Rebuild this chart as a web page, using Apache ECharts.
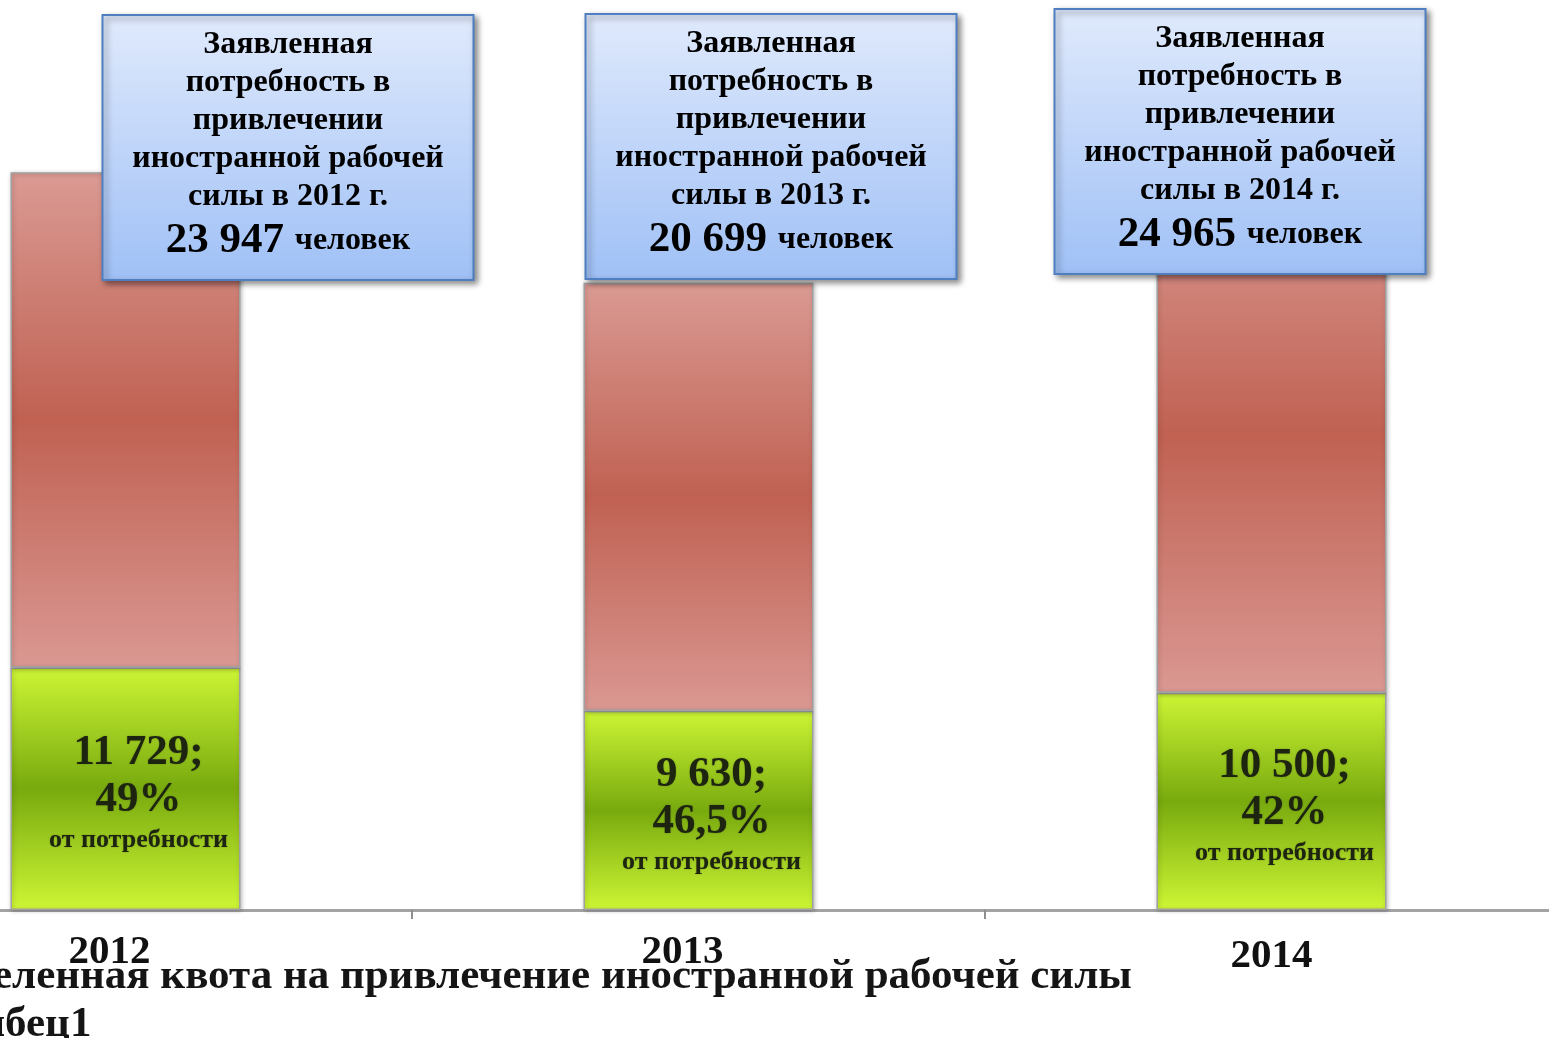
<!DOCTYPE html>
<html>
<head>
<meta charset="utf-8">
<script src="https://cdn.jsdelivr.net/npm/echarts@6/dist/echarts.min.js"></script>
<style>
html,body{margin:0;padding:0;background:#fff;overflow:hidden;width:1549px;height:1038px;}
#chart{width:1719px;height:1070px;margin-left:-161px;}
</style>
</head>
<body>
<div id="chart"></div>
<script>
// ---- data ----
const years = ['2012', '2013', '2014'];
const quotaValues = [11729, 9630, 10500];          // выделенная квота
const demandValues = [23947, 20699, 24965];        // заявленная потребность
const quotaShare = ['49%', '46,5%', '42%'];
const quotaName = 'Выделенная квота на привлечение иностранной рабочей силы';
const demandName = 'Столбец1';

// ---- helpers ----
const fmt = n => String(n).replace(/\B(?=(\d{3})+(?!\d))/g, ' ');
const FONT = '"Liberation Serif", "Times New Roman", serif';
const SHIFT = 161; // chart container extends past the left edge of the view

const chart = echarts.init(document.getElementById('chart'));

const redGrad = new echarts.graphic.LinearGradient(0, 0, 0, 1, [
  {offset: 0, color: '#da9a93'},
  {offset: 0.5, color: '#c06152'},
  {offset: 1, color: '#da9892'}
]);
const greenGrad = new echarts.graphic.LinearGradient(0, 0, 0, 1, [
  {offset: 0, color: '#cdf535'},
  {offset: 0.5, color: '#78aa0e'},
  {offset: 1, color: '#cef635'}
]);

// callout boxes (annotation layout, view coordinates)
const boxLayout = [
  {cx: 288, top: 15},
  {cx: 771, top: 14},
  {cx: 1240, top: 9}
];
const BOX_W = 371, BOX_H = 265;

const boxes = [];
years.forEach((y, i) => {
  boxes.push({
    type: 'rect',
    z: 100,
    zlevel: 1,
    shape: {x: SHIFT + boxLayout[i].cx - BOX_W / 2, y: boxLayout[i].top, width: BOX_W, height: BOX_H},
    style: {
      fill: new echarts.graphic.LinearGradient(0, 0, 0, 1, [
        {offset: 0, color: '#e0eafc'},
        {offset: 1, color: '#9fc0f6'}
      ]),
      stroke: '#4f7fc0',
      lineWidth: 2,
      shadowBlur: 6,
      shadowOffsetX: 3,
      shadowOffsetY: 3,
      shadowColor: 'rgba(0,0,0,0.45)'
    }
  });
  boxes.push({
    type: 'text',
    z: 101,
    zlevel: 1,
    x: SHIFT + boxLayout[i].cx,
    y: boxLayout[i].top + 11,
    style: {
      text: '{t|Заявленная}\n{t|потребность в}\n{t|привлечении}\n{t|иностранной рабочей}\n{t|силы в ' + y + ' г.}\n{n|' + fmt(demandValues[i]) + ' }{c|человек}',
      align: 'center',
      verticalAlign: 'top',
      rich: {
        t: {fontFamily: FONT, fontWeight: 'bold', fontSize: 32, lineHeight: 38, fill: '#000', align: 'center'},
        n: {fontFamily: FONT, fontWeight: 'bold', fontSize: 43, lineHeight: 50, fill: '#000'},
        c: {fontFamily: FONT, fontWeight: 'bold', fontSize: 32, lineHeight: 50, fill: '#000'}
      }
    }
  });
});

const option = {
  animation: false,
  backgroundColor: '#fff',
  grid: {left: 0, right: 0, top: 0, bottom: 160, containLabel: false},
  legend: {
    orient: 'vertical',
    left: SHIFT - 121,
    top: 955,
    padding: 0,
    itemWidth: 24,
    itemHeight: 24,
    itemGap: 5,
    textStyle: {fontFamily: FONT, fontWeight: 'bold', fontSize: 43, color: '#151515'},
    data: [quotaName, demandName]
  },
  xAxis: {
    type: 'category',
    data: years,
    axisLine: {lineStyle: {color: '#a3a3a3', width: 3}},
    axisTick: {show: true, length: 9, interval: 0, lineStyle: {color: '#8f8f8f', width: 2}},
    axisLabel: {
      margin: 22,
      formatter: (v, i) => (i < 2 ? '{s|' + v + '}' : '{c|' + v + '}'),
      rich: {
        s: {fontFamily: FONT, fontWeight: 'bold', fontSize: 41, color: '#111', padding: [0, 32, 0, 0]},
        c: {fontFamily: FONT, fontWeight: 'bold', fontSize: 41, color: '#111', padding: [4, 0, 0, 0]}
      }
    }
  },
  yAxis: {
    type: 'value', min: 0, max: 44000, show: false,
    splitLine: {show: false}
  },
  series: [
    {
      name: quotaName,
      type: 'bar',
      stack: 'total',
      barWidth: 230,
      data: quotaValues,
      itemStyle: {color: greenGrad, borderColor: '#a0a0a0', borderWidth: 1.5,
        shadowBlur: 4, shadowOffsetX: 1, shadowOffsetY: 1, shadowColor: 'rgba(0,0,0,0.25)'},
      label: {
        show: true,
        position: 'inside',
        offset: [13, 5],
        formatter: p => '{a|' + fmt(quotaValues[p.dataIndex]) + ';}\n{a|' + quotaShare[p.dataIndex] + '}\n{b|от потребности}',
        rich: {
          a: {fontFamily: FONT, fontWeight: 'bold', fontSize: 43, lineHeight: 47, color: '#1d2410'},
          b: {fontFamily: FONT, fontWeight: 'bold', fontSize: 26, lineHeight: 34, color: '#1d2410'}
        },
        textShadowColor: 'rgba(40,50,20,0.35)',
        textShadowBlur: 2
      }
    },
    {
      name: demandName,
      type: 'bar',
      stack: 'total',
      barWidth: 230,
      data: demandValues,
      itemStyle: {color: redGrad, borderColor: '#a0a0a0', borderWidth: 1.5,
        shadowBlur: 4, shadowOffsetX: 1, shadowOffsetY: 1, shadowColor: 'rgba(0,0,0,0.25)'}
    }
  ],
  graphic: boxes
};

chart.setOption(option);
</script>
</body>
</html>
